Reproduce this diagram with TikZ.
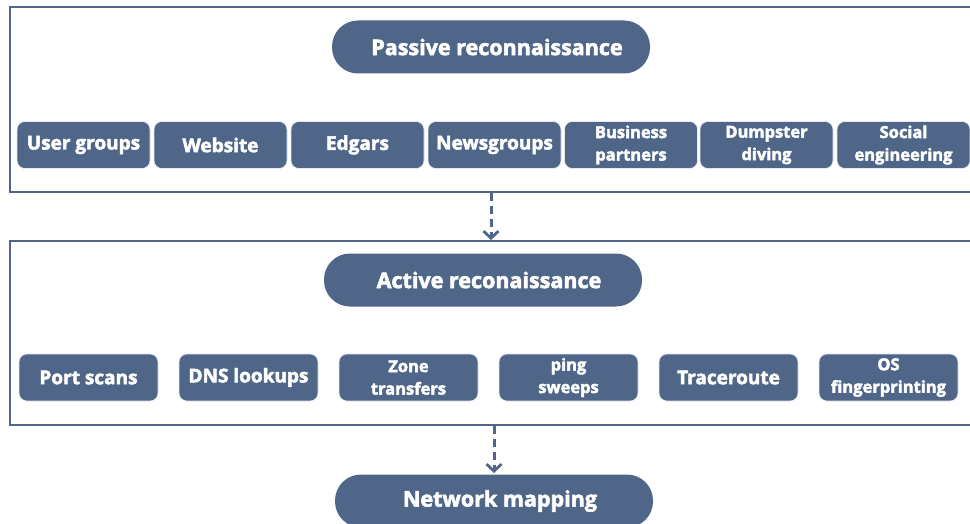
\documentclass[tikz,border=0pt]{standalone}
\usepackage{fontspec}
\setmainfont{Open Sans}[BoldFeatures={FakeBold=2.6}]
\usetikzlibrary{arrows.meta}
\definecolor{slate}{RGB}{80,102,137}
\tikzset{
  frame/.style={draw=slate, line width=2pt},
  pill/.style={fill=slate, rounded corners=26pt, minimum width=318pt, minimum height=53pt,
    inner sep=0pt, text=white, font=\bfseries\fontsize{21.5}{24}\selectfont},
  item/.style={fill=slate, draw=white!85!slate, line width=0.6pt, rounded corners=8pt,
    minimum height=47pt, inner sep=0pt, text=white, align=center},
  itemA/.style={item, minimum width=133pt},
  itemB/.style={item, minimum width=139pt},
  one/.style={font=\bfseries\fontsize{19}{20}\selectfont},
  two/.style={font=\bfseries\fontsize{16.5}{22.5}\selectfont},
  flow/.style={draw=slate, line width=3pt, dash pattern=on 8pt off 5pt,
    -{Straight Barb[length=7pt,width=15pt,line width=2.8pt]}}
}
\newcommand{\nudge}{\hspace*{12pt}}
\begin{document}
\begin{tikzpicture}[x=1pt,y=-1pt]
\useasboundingbox (0,0) rectangle (970,524);
\clip (0,0) rectangle (970,524);

% outer frames (open to the right)
\draw[frame] (10,7) rectangle (990,192);
\draw[frame] (10,241) rectangle (990,425);

% passive stage
\node[pill] (passive) at (491,47) {\nudge Passive reconnaissance};
\node[itemA, one] (usergroups) at (83.5,145) {User groups};
\node[itemA, one] (website) at (220.5,145) {Website};
\node[itemA, one] (edgars) at (357.5,145) {Edgars};
\node[itemA, one] (newsgroups) at (494.5,145) {Newsgroups};
\node[itemA, two] (business) at (631,145) {Business\\partners};
\node[itemA, two] (dumpster) at (766.5,145) {Dumpster\\diving};
\node[itemA, two] (social) at (903.5,145) {Social\\engineering};

% active stage
\node[pill] (active) at (483,280) {\nudge Active reconaissance};
\node[itemB, one] (portscans) at (88.5,377.5) {Port scans};
\node[itemB, one] (dns) at (248.5,377.5) {DNS lookups};
\node[itemB, two] (zone) at (408.5,377.5) {Zone\\transfers};
\node[itemB, two] (ping) at (568.5,377.5) {ping\\sweeps};
\node[itemB, one] (traceroute) at (728.5,377.5) {Traceroute};
\node[itemB, two] (os) at (888.5,377.5) {OS\\fingerprinting};

% result
\node[pill] (mapping) at (494,501) {\nudge Network mapping};

% stage links
\coordinate (p1) at (491,193);
\coordinate (p2) at (491,240);
\coordinate (a1) at (494,426);
\coordinate (a2) at (494,473);
\draw[flow] (p1) -- (p2);
\draw[flow] (a1) -- (a2);
\end{tikzpicture}
\end{document}
